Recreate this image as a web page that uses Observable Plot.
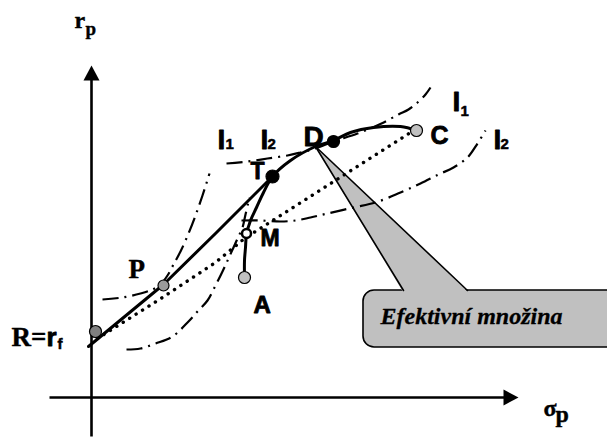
<!DOCTYPE html>
<html><head><meta charset="utf-8">
<script src="https://cdn.jsdelivr.net/npm/d3@7"></script>
<script src="https://cdn.jsdelivr.net/npm/@observablehq/plot@0.6"></script>
<style>body{margin:0;background:#fff}</style>
</head><body><div id="chart"></div>
<script>
// ---- data (σ_p on x, r_p on y, arbitrary units) ----
const frontierSigma = [15.3, 15.3, 15.4, 15.5, 15.9, 16.5, 17.2, 18.1, 19.9, 22.4, 24.2, 25.9, 28.2, 30.9, 32.5];
const frontierR     = [12.0, 13.7, 15.0, 16.3, 17.7, 19.0, 20.5, 22.1, 23.7, 25.1, 25.7, 26.5, 27.0, 27.1, 26.7];

const cmlSigma = [-0.3, 7.2, 12.5, 18.1];
const cmlR     = [5.1, 11.3, 16.5, 22.1];

const dottedSigma = [0.6, 7.1, 12.4, 15.3, 31.9];
const dottedR     = [5.9, 10.0, 13.5, 15.9, 26.5];

const i1LowSigma = [1.1, 3.1, 4.9, 6.1, 6.9, 7.6, 8.2, 8.9, 9.7, 10.4, 11.1, 11.8];
const i1LowR     = [9.8, 10.0, 10.4, 10.8, 11.3, 12.2, 13.3, 14.6, 16.4, 18.2, 20.2, 22.4];

const i2LowSigma = [3.5, 4.9, 6.4, 8.1, 9.7, 10.6, 11.6, 12.3, 13.1, 13.7, 14.2, 14.7, 15.1, 15.4, 15.8];
const i2LowR     = [4.8, 4.9, 5.4, 6.1, 7.6, 8.6, 9.7, 11.0, 12.6, 13.9, 15.0, 16.1, 17.0, 18.3, 20.0];

const i1HighSigma = [13.5, 15.6, 17.6, 19.6, 20.9, 22.4, 24.2, 26.6, 29.0, 30.7, 31.7, 32.6, 33.4, 33.9];
const i1HighR     = [23.4, 23.6, 23.9, 24.2, 24.5, 24.9, 25.6, 26.4, 27.4, 28.3, 28.8, 29.5, 30.3, 31.0];

const i2HighSigma = [15.0, 16.9, 18.9, 20.4, 21.9, 23.6, 26.2, 28.4, 30.9, 32.9, 34.7, 36.2, 37.6, 38.6, 39.4];
const i2HighR     = [17.7, 17.7, 17.6, 17.7, 18.0, 18.4, 19.0, 19.5, 20.5, 21.4, 22.3, 23.0, 24.0, 25.4, 26.7];

const pointNames = ["R", "P", "A", "M", "T", "D", "C"];
const pointSigma = [0.4, 7.2, 15.3, 15.5, 18.1, 24.2, 32.5];
const pointR     = [6.6, 11.2, 12.0, 16.4, 22.1, 25.6, 26.7];

const serifText  = ["R=", "r", "p", "σ", "p", "P"];
const serifSigma = [-8.0, -1.7, -0.6, 45.2, 46.4, 3.7];
const serifR     = [5.2, 37.0, 36.3, -1.8, -2.4, 12.0];

const sansText  = ["r", "A", "M", "T", "D", "C", "I", "I", "I", "I"];
const sansSigma = [-4.5, 16.2, 16.9, 15.9, 21.2, 33.9, 12.6, 16.9, 36.1, 40.2];
const sansR     = [5.2, 8.5, 15.2, 21.9, 25.2, 25.4, 24.9, 24.9, 28.7, 24.9];

const subText  = ["f", "1", "2", "1", "2"];
const subSigma = [-3.4, 13.4, 17.6, 36.9, 40.9];
const subR     = [4.9, 24.9, 24.9, 28.2, 24.9];

const calloutText = "Efektivní množina";
const calloutTextPos = [38.0, 7.4];
const calloutBoxSigma = [27.2, 53.4];
const calloutBoxR = [5.0, 10.7];
const calloutTip = [22.4, 25.1];
const calloutBaseSigma = [31.2, 37.6];

const axisYExtent = [-3.9, 33.2];  // r range of vertical axis (bottom, arrow tip)
const axisXExtent = [-4.2, 42.7];  // σ range of horizontal axis (left, arrow tip)

// ---- helpers ----
const zip = (s, r) => s.map((x, i) => ({sigma: x, r: r[i]}));
const arrowHead = {draw(ctx) { ctx.moveTo(0, 0); ctx.lineTo(8, 15); ctx.lineTo(-8, 15); ctx.closePath(); }};
const dashDot = {stroke: "black", strokeWidth: 2.2, strokeDasharray: "16 6 2 6", strokeLinecap: "butt", curve: "catmull-rom"};

const points = pointNames.map((n, i) => ({name: n, sigma: pointSigma[i], r: pointR[i]}));
const pointFill = {R: "#808080", P: "#9a9a9a", A: "#c0c0c0", M: "white", T: "black", D: "black", C: "#c0c0c0"};
const pointRadius = {R: 6, P: 5.5, A: 6, M: 4.5, T: 6.5, D: 6, C: 6};

const serifSizes = [27, 24, 19, 24, 24, 27];
const sansSizes = [26, 24, 23, 23, 28, 25, 28, 28, 28, 28];
const serifLabels = serifText.map((t, i) => ({t, sigma: serifSigma[i], r: serifR[i], s: serifSizes[i]}));
const sansLabels = sansText.map((t, i) => ({t, sigma: sansSigma[i], r: sansR[i], s: sansSizes[i]}));
const subLabels = subText.map((t, i) => ({t, sigma: subSigma[i], r: subR[i]}));

const tip = {sigma: calloutTip[0], r: calloutTip[1]};
const baseL = {sigma: calloutBaseSigma[0], r: calloutBoxR[1]};
const baseR = {sigma: calloutBaseSigma[1], r: calloutBoxR[1]};
const pointerFill = [tip, {sigma: baseL.sigma - 0.05, r: baseL.r - 0.15}, {sigma: baseR.sigma + 0.05, r: baseR.r - 0.15}, tip];
const pointerEdges = [{...tip, z: 0}, {...baseL, z: 0}, {...tip, z: 1}, {...baseR, z: 1}];

const chart = Plot.plot({
  width: 607, height: 437, margin: 0,
  x: {domain: [-9.1, 51.6], range: [0, 607], axis: null},
  y: {domain: [-4, 39.7], range: [437, 0], axis: null},
  style: {background: "white"},
  marks: [
    // callout
    Plot.rect([{}], {x1: calloutBoxSigma[0], x2: calloutBoxSigma[1], y1: calloutBoxR[0], y2: calloutBoxR[1],
      fill: "#c0c0c0", stroke: "black", strokeWidth: 1.6, rx: 11}),
    Plot.line(pointerFill, {x: "sigma", y: "r", fill: "#c0c0c0", stroke: "none", curve: "linear"}),
    Plot.line(pointerEdges, {x: "sigma", y: "r", z: "z", stroke: "black", strokeWidth: 1.6}),
    Plot.text([calloutText], {x: calloutTextPos[0], y: calloutTextPos[1], text: d => d, textAnchor: "middle", lineAnchor: "bottom",
      fontFamily: "Liberation Serif", fontWeight: "bold", fontStyle: "italic", fontSize: 24, fill: "black",
      stroke: "black", strokeWidth: 0.3}),
    // axes
    Plot.line([{sigma: 0, r: axisYExtent[0]}, {sigma: 0, r: axisYExtent[1] - 1.0}], {x: "sigma", y: "r", stroke: "black", strokeWidth: 2.6, strokeLinecap: "butt"}),
    Plot.line([{sigma: axisXExtent[0], r: 0}, {sigma: axisXExtent[1] - 1.0, r: 0}], {x: "sigma", y: "r", stroke: "black", strokeWidth: 2.6, strokeLinecap: "butt"}),
    Plot.dot([{sigma: 0, r: axisYExtent[1], rot: 0}, {sigma: axisXExtent[1], r: 0, rot: 90}],
      {x: "sigma", y: "r", rotate: "rot", symbol: arrowHead, r: 6, fill: "black", stroke: "none"}),
    // indifference curves
    Plot.line(zip(i1LowSigma, i1LowR), {x: "sigma", y: "r", ...dashDot}),
    Plot.line(zip(i2LowSigma, i2LowR), {x: "sigma", y: "r", ...dashDot}),
    Plot.line(zip(i1HighSigma, i1HighR), {x: "sigma", y: "r", ...dashDot}),
    Plot.line(zip(i2HighSigma, i2HighR), {x: "sigma", y: "r", ...dashDot}),
    // dotted line
    Plot.line(zip(dottedSigma, dottedR), {x: "sigma", y: "r", stroke: "black", strokeWidth: 3.4, strokeDasharray: "0.1 7.5", strokeLinecap: "round"}),
    // frontier and capital line
    Plot.line(zip(frontierSigma, frontierR), {x: "sigma", y: "r", stroke: "black", strokeWidth: 3, curve: "catmull-rom"}),
    Plot.line(zip(cmlSigma, cmlR), {x: "sigma", y: "r", stroke: "black", strokeWidth: 3, curve: "linear"}),
    // points
    ...points.map(p => Plot.dot([p], {x: "sigma", y: "r", r: pointRadius[p.name], fill: pointFill[p.name],
      stroke: "black", strokeWidth: p.name === "M" ? 2.5 : 1.2})),
    // labels
    Plot.text(serifLabels, {x: "sigma", y: "r", text: "t", fontSize: "s", textAnchor: "start", lineAnchor: "bottom",
      fontFamily: "Liberation Serif", fontWeight: "bold", fill: "black", stroke: "black", strokeWidth: 0.4}),
    Plot.text(sansLabels, {x: "sigma", y: "r", text: "t", fontSize: "s", textAnchor: "start", lineAnchor: "bottom",
      fontFamily: "Liberation Sans", fontWeight: "bold", fill: "black", stroke: "black", strokeWidth: 0.8}),
    Plot.text(subLabels, {x: "sigma", y: "r", text: "t", fontSize: 15, textAnchor: "start", lineAnchor: "bottom",
      fontFamily: "Liberation Sans", fontWeight: "bold", fill: "black", stroke: "black", strokeWidth: 0.5})
  ]
});
document.getElementById("chart").appendChild(chart);
</script></body></html>
